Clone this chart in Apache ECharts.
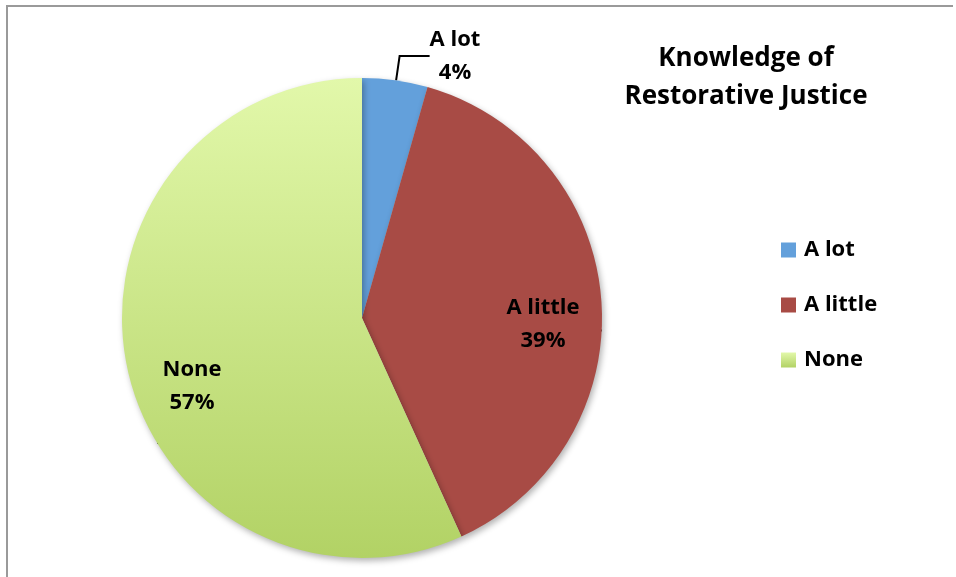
<!DOCTYPE html>
<html>
<head>
<meta charset="utf-8">
<script src="https://cdn.jsdelivr.net/npm/echarts@6/dist/echarts.min.js"></script>
<style>
html,body{margin:0;padding:0;background:#fff;}
#main{width:956px;height:577px;}
</style>
</head>
<body>
<div id="main"></div>
<script>
var categories = ['A lot', 'A little', 'None'];
var values = [4.4, 38.8, 56.8];
var titleText = 'Knowledge of\nRestorative Justice';

function greenGrad() {
  return new echarts.graphic.LinearGradient(0, 0, 0, 1, [
    {offset: 0, color: '#E2F8AA'},
    {offset: 1, color: '#B2D265'}
  ]);
}
var colors = ['#63A0DB', '#A84B45', greenGrad()];
var legendColors = ['#63A0DB', '#A84B45', greenGrad()];

var labelPos = [[455, 56], [543, 324], [192, 386]];

var chart = echarts.init(document.getElementById('main'));
var font = '"Open Sans", Lato, sans-serif';
chart.setOption({
  animation: false,
  backgroundColor: '#fff',
  title: {
    text: titleText,
    left: 746, top: 40, textAlign: 'center', padding: 0,
    textStyle: {fontFamily: font, fontWeight: 'bold', fontSize: 26, color: '#000', lineHeight: 38, align: 'center'}
  },
  legend: {
    orient: 'vertical',
    left: 781, top: 239, padding: 0,
    itemWidth: 15, itemHeight: 15, itemGap: 33,
    icon: 'rect',
    data: categories.map(function (c, i) { return {name: c, itemStyle: {color: legendColors[i]}}; }),
    textStyle: {fontFamily: font, fontWeight: 'bold', fontSize: 22, color: '#000', padding: [0, 0, 0, 3]}
  },
  graphic: [
    {type: 'line', shape: {x1: 7, y1: 6, x2: 7, y2: 577}, style: {stroke: '#9a9a9a', lineWidth: 2}},
    {type: 'line', shape: {x1: 6, y1: 6, x2: 953, y2: 6}, style: {stroke: '#9a9a9a', lineWidth: 2}}
  ],
  series: [{
    type: 'pie',
    center: [362, 318],
    radius: 240,
    startAngle: 90,
    clockwise: true,
    data: categories.map(function (c, i) {
      return {name: c, value: values[i], itemStyle: {color: colors[i]}};
    }),
    itemStyle: {shadowBlur: 6, shadowOffsetX: 2, shadowOffsetY: 3, shadowColor: 'rgba(0,0,0,0.3)'},
    label: {
      show: true,
      position: 'inside',
      formatter: function (p) { return p.name + '\n' + Math.round(p.value) + '%'; },
      fontFamily: font, fontWeight: 'bold', fontSize: 22, color: '#000', lineHeight: 33, align: 'center'
    },
    labelLine: {show: true, lineStyle: {color: '#000', width: 2}},
    labelLayout: function (p) {
      var pos = labelPos[p.dataIndex];
      var res = {x: pos[0], y: pos[1], align: 'center', verticalAlign: 'middle'};
      if (p.dataIndex === 0) {
        res.labelLinePoints = [[395, 81], [405, 48], [421, 48]];
      }
      return res;
    },
    emphasis: {disabled: true}
  }]
});
</script>
</body>
</html>
